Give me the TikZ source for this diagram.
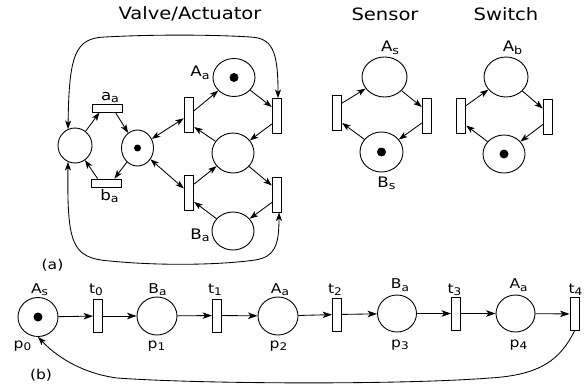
\documentclass[tikz,border=0pt]{standalone}
\usepackage{fontspec}
\setmainfont{DejaVu Sans}[FakeStretch=1.15]
\usetikzlibrary{shapes.geometric,arrows.meta}
\newcommand\sbA[1]{\raisebox{-2.5pt}{\fontsize{11}{12}\selectfont #1}}
\newcommand\sbB[1]{\raisebox{-2.5pt}{\fontsize{10.5}{11}\selectfont #1}}
\tikzset{
  place/.style={draw, ellipse, line width=0.9pt, inner sep=0pt, fill=white},
  trans/.style={draw, rectangle, line width=0.9pt, inner sep=0pt, fill=white},
  vtrans/.style={trans, minimum width=9.5pt, minimum height=35pt},
  htrans/.style={trans, minimum width=30pt, minimum height=8pt},
  btrans/.style={trans, minimum width=9pt, minimum height=33pt},
  tok/.style={circle, fill=black, inner sep=0pt, minimum size=9pt},
  tip/.tip={Stealth[length=8.5pt,width=6pt,inset=2.2pt]},
  btip/.tip={Stealth[length=9.5pt,width=6.5pt,inset=2.5pt]},
  arr/.style={-tip, line width=0.85pt},
  darr/.style={tip-tip, line width=0.85pt},
  barr/.style={-btip, line width=0.85pt},
  ttl/.style={font=\fontsize{17}{20}\selectfont, anchor=base, inner sep=0pt},
  lbA/.style={font=\fontsize{14.5}{16}\selectfont, anchor=base, inner sep=0pt},
  lbB/.style={font=\fontsize{13.5}{15}\selectfont, anchor=base, inner sep=0pt},
}
\begin{document}
\begin{tikzpicture}[x=1pt,y=-1pt]
\path[use as bounding box] (0,0) rectangle (585,385);

% ---------- Valve / Actuator ----------
\node[ttl] (tV) at (190,19.5) {Valve/Actuator};
\node[place, minimum width=34pt, minimum height=35pt] (L) at (75,145.5) {};
\node[place, minimum width=32pt, minimum height=36pt] (M) at (137.5,148) {};
\node[tok, minimum size=7pt] (Mt) at (M) {};
\node[htrans] (aa) at (107,108) {};
\node[htrans] (ba) at (106,183) {};
\node[vtrans] (T1) at (189,115) {};
\node[vtrans] (T2) at (189,193) {};
\node[place, minimum width=42pt, minimum height=38pt] (Aa) at (234,77.5) {};
\node[tok] (Aat) at (Aa) {};
\node[place, minimum width=42pt, minimum height=40pt] (Mr) at (233,153) {};
\node[place, minimum width=42pt, minimum height=38pt] (Ba) at (233,231) {};
\node[vtrans] (RU) at (277,116) {};
\node[vtrans] (RL) at (277,194.5) {};

\node[lbA] (laa) at (110,100) {a\sbA{a}};
\node[lbA] (lba) at (109.5,200) {b\sbA{a}};
\node[lbA] (lAa) at (200,77) {A\sbA{a}};
\node[lbA] (lBa) at (200,239) {B\sbA{a}};

\draw[arr] (L) -- ([xshift=8pt]aa.south west);
\draw[arr] ([xshift=-7pt]aa.south east) -- (M);
\draw[arr] (M) -- ([xshift=-7pt]ba.north east);
\draw[arr] ([xshift=7pt]ba.north west) -- (L);
\draw[darr] (M) -- (T1);
\draw[darr] (M) -- (T2);
\draw[arr] (T1) -- (Aa);
\draw[arr] (Aa) -- ([yshift=9pt]RU.west);
\draw[arr] ([yshift=-8pt]RU.west) -- (Mr);
\draw[arr] (Mr) -- ([yshift=-12pt]T1.east);
\draw[arr] ([yshift=9pt]T2.east) -- (Mr);
\draw[arr] (Mr) -- ([yshift=9pt]RL.west);
\draw[arr] ([yshift=-8pt]RL.west) -- (Ba);
\draw[arr] (Ba) -- ([yshift=-9pt]T2.east);

\draw[darr] (L.113) .. controls (69,55) and (75,38) .. (105,37)
  .. controls (160,34) and (220,35) .. (250,37)
  .. controls (272,38) and (278,50) .. ([xshift=1pt]RU.north);
\draw[darr] (L.247) .. controls (67,245) and (72,258) .. (110,261)
  .. controls (160,266) and (220,265) .. (255,260)
  .. controls (275,257) and (279,245) .. ([xshift=2pt]RL.south);

% ---------- Sensor ----------
\node[ttl] (tS) at (385,21) {Sensor};
\node[place, minimum width=45pt, minimum height=40pt] (As) at (384.5,77) {};
\node[place, minimum width=43pt, minimum height=40pt] (Bs) at (381.5,152) {};
\node[tok] (Bst) at (Bs) {};
\node[vtrans] (SL) at (337,113) {};
\node[vtrans] (SR) at (427,115.5) {};
\node[lbA] (lAs) at (390,52) {A\sbA{s}};
\node[lbA] (lBs) at (386.5,187) {B\sbA{s}};
\draw[arr] ([yshift=10pt]SL.east) -- (As);
\draw[arr] (As) -- ([yshift=8.5pt]SR.west);
\draw[arr] ([yshift=-7.5pt]SR.west) -- (Bs);
\draw[arr] (Bs) -- ([yshift=-10pt]SL.east);

% ---------- Switch ----------
\node[ttl] (tW) at (506,21) {Switch};
\node[place, minimum width=44pt, minimum height=40pt] (Ab) at (506,77) {};
\node[place, minimum width=42pt, minimum height=38pt] (Bb) at (504,154) {};
\node[tok] (Bbt) at (Bb) {};
\node[vtrans] (WL) at (461,115.5) {};
\node[vtrans] (WR) at (548,117) {};
\node[lbA] (lAb) at (512.5,52) {A\sbA{b}};
\draw[arr] ([yshift=10pt]WL.east) -- (Ab);
\draw[arr] (Ab) -- ([yshift=8.5pt]WR.west);
\draw[arr] ([yshift=-7.5pt]WR.west) -- (Bb);
\draw[arr] (Bb) -- ([yshift=-10pt]WL.east);

\node[lbB] (la) at (52.5,269) {(a)};

% ---------- (b) ----------
\node[place, minimum width=40pt, minimum height=39pt] (p0) at (38,317) {};
\node[tok] (p0t) at (p0) {};
\node[btrans] (t0) at (98,316) {};
\node[place, minimum width=40pt, minimum height=38pt] (p1) at (157,316) {};
\node[btrans] (t1) at (217,315.5) {};
\node[place, minimum width=40pt, minimum height=38pt] (p2) at (278,316) {};
\node[btrans] (t2) at (337,314.5) {};
\node[place, minimum width=39pt, minimum height=37pt] (p3) at (397,313.5) {};
\node[btrans] (t3) at (456,313.5) {};
\node[place, minimum width=39pt, minimum height=37pt] (p4) at (515.5,313.5) {};
\node[btrans] (t4) at (574.5,314) {};

\draw[barr] (p0) -- (t0);
\draw[barr] (t0) -- (p1);
\draw[barr] (p1) -- (t1);
\draw[barr] (t1) -- (p2);
\draw[barr] (p2) -- (t2);
\draw[barr] (t2) -- (p3);
\draw[barr] (p3) -- (t3);
\draw[barr] (t3) -- (p4);
\draw[barr] (p4) -- (t4);
\draw[arr] (t4.south) .. controls (560,360) and (540,375) .. (490,378)
  .. controls (400,385) and (200,384) .. (117,378)
  .. controls (80,373) and (55,355) .. (p0.south);

\node[lbB] (lp0a) at (39.5,293) {A\sbB{s}};
\node[lbB] (lt0) at (96,293) {t\sbB{0}};
\node[lbB] (lp1a) at (157.5,293) {B\sbB{a}};
\node[lbB] (lt1) at (215,293) {t\sbB{1}};
\node[lbB] (lp2a) at (280,293) {A\sbB{a}};
\node[lbB] (lt2) at (335,293) {t\sbB{2}};
\node[lbB] (lp3a) at (400,288.5) {B\sbB{a}};
\node[lbB] (lt3) at (454.5,293) {t\sbB{3}};
\node[lbB] (lp4a) at (518.5,288.5) {A\sbB{a}};
\node[lbB] (lt4) at (575.5,293) {t\sbB{4}};
\node[lbB] (lp0) at (22.5,348) {p\sbB{0}};
\node[lbB] (lp1) at (156.5,348) {p\sbB{1}};
\node[lbB] (lp2) at (278.5,348) {p\sbB{2}};
\node[lbB] (lp3) at (400,347) {p\sbB{3}};
\node[lbB] (lp4) at (518.5,347) {p\sbB{4}};
\node[lbB] (lb) at (41,379) {(b)};
\end{tikzpicture}
\end{document}
